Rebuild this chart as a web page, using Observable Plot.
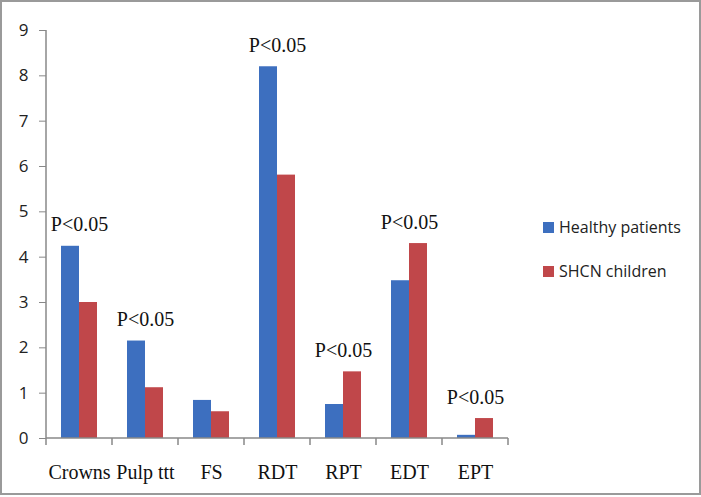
<!DOCTYPE html>
<html>
<head>
<meta charset="utf-8">
<script src="https://cdn.jsdelivr.net/npm/d3@7"></script>
<script src="https://cdn.jsdelivr.net/npm/@observablehq/plot@0.6"></script>
<style>
  html, body { margin: 0; padding: 0; background: #fff; }
  #frame { position: relative; width: 697px; height: 491px; border: 2px solid #9a9a9a; margin: 0; overflow: hidden; background: #fff; }
  #chart { position: absolute; left: -2px; top: -2px; }
  #legend { position: absolute; left: 541px; top: 215px; font-family: "Open Sans", "Liberation Sans", sans-serif; font-size: 16px; color: #222; }
  .item { display: flex; align-items: center; height: 20px; margin-bottom: 24px; }
  .sw { width: 11px; height: 11px; margin-right: 5px; }
  .serif text { font-family: "Liberation Serif", "Times New Roman", serif !important; }
</style>
</head>
<body>
<div id="frame">
  <div id="chart"></div>
  <div id="legend"></div>
</div>
<script>
const categories = ["Crowns", "Pulp ttt", "FS", "RDT", "RPT", "EDT", "EPT"];
const seriesNames = ["Healthy patients", "SHCN children"];
const healthy = [4.24, 2.15, 0.84, 8.2, 0.75, 3.48, 0.07];
const shcn = [3.0, 1.12, 0.59, 5.81, 1.47, 4.3, 0.44];
const significant = ["Crowns", "Pulp ttt", "RDT", "RPT", "EDT", "EPT"];
const annotationText = "P<0.05";
const yTicks = [0, 1, 2, 3, 4, 5, 6, 7, 8, 9];
const colors = ["#3d6fbf", "#c0474a"];

const rows = [];
categories.forEach((c, i) => {
  rows.push({category: c, series: seriesNames[0], value: healthy[i]});
  rows.push({category: c, series: seriesNames[1], value: shcn[i]});
});
const notes = significant.map(c => {
  const i = categories.indexOf(c);
  return {category: c, top: Math.max(healthy[i], shcn[i]), label: annotationText};
});

const plot = Plot.plot({
  width: 560,
  height: 497,
  marginLeft: 43,
  marginRight: 49,
  marginTop: 30,
  marginBottom: 59,
  style: {background: "transparent"},
  fx: {domain: categories, padding: 0, axis: "bottom", tickSize: 0, tickPadding: 26, label: null,
       tickFormat: d => d},
  x: {domain: seriesNames, axis: null, paddingInner: 0, paddingOuter: 0.76},
  y: {domain: [0, 9], ticks: yTicks, tickSize: 7, tickPadding: 11, label: null, tickFormat: d3.format("d")},
  color: {domain: seriesNames, range: colors},
  marks: [
    Plot.barY(rows, {fx: "category", x: "series", y: "value", fill: "series", inset: 0}),
    Plot.text(notes, {fx: "category", y: "top", text: "label", dy: -15, lineAnchor: "bottom",
      className: "serif", fontSize: 20, fill: "#111"})
  ]
});

const svg = d3.select(plot);
svg.style("overflow", "visible");
svg.selectAll("[aria-label='text'] text").style("font-family", "'Liberation Serif', 'Times New Roman', serif").style("font-size", "20px");
svg.selectAll("[aria-label='fx-axis'] text, [aria-label='fx-axis tick label'] text")
  .style("font-family", "'Liberation Serif', 'Times New Roman', serif").style("font-size", "20px").attr("fill", "#111");
svg.selectAll("[aria-label='y-axis'] text, [aria-label='y-axis tick label'] text")
  .style("font-family", "'Open Sans', 'Liberation Sans', sans-serif").style("font-size", "17px").attr("fill", "#222");
svg.selectAll("[aria-label='y-axis'] line, [aria-label='y-axis tick'] path, [aria-label='y-axis tick'] line")
  .attr("stroke", "#888").attr("stroke-opacity", 1);

const fx = plot.scale("fx");
const y = plot.scale("y");
const y0 = y.apply(0), y9 = y.apply(9);
const left = fx.apply(categories[0]);
const right = fx.apply(categories[categories.length - 1]) + fx.bandwidth;
const g = svg.append("g").attr("stroke", "#888").attr("stroke-width", 1.5);
g.append("line").attr("x1", left).attr("x2", left).attr("y1", y9).attr("y2", y0);
g.append("line").attr("x1", left).attr("x2", right).attr("y1", y0).attr("y2", y0);
categories.forEach(c => {
  const xx = fx.apply(c);
  g.append("line").attr("x1", xx).attr("x2", xx).attr("y1", y0).attr("y2", y0 + 7);
});
g.append("line").attr("x1", right).attr("x2", right).attr("y1", y0).attr("y2", y0 + 7);

document.getElementById("chart").appendChild(plot);

const legend = document.getElementById("legend");
seriesNames.forEach((s, i) => {
  const it = document.createElement("div");
  it.className = "item";
  const sw = document.createElement("div");
  sw.className = "sw";
  sw.style.background = colors[i];
  it.appendChild(sw);
  const t = document.createElement("span");
  t.textContent = s;
  it.appendChild(t);
  legend.appendChild(it);
});
</script>
</body>
</html>
